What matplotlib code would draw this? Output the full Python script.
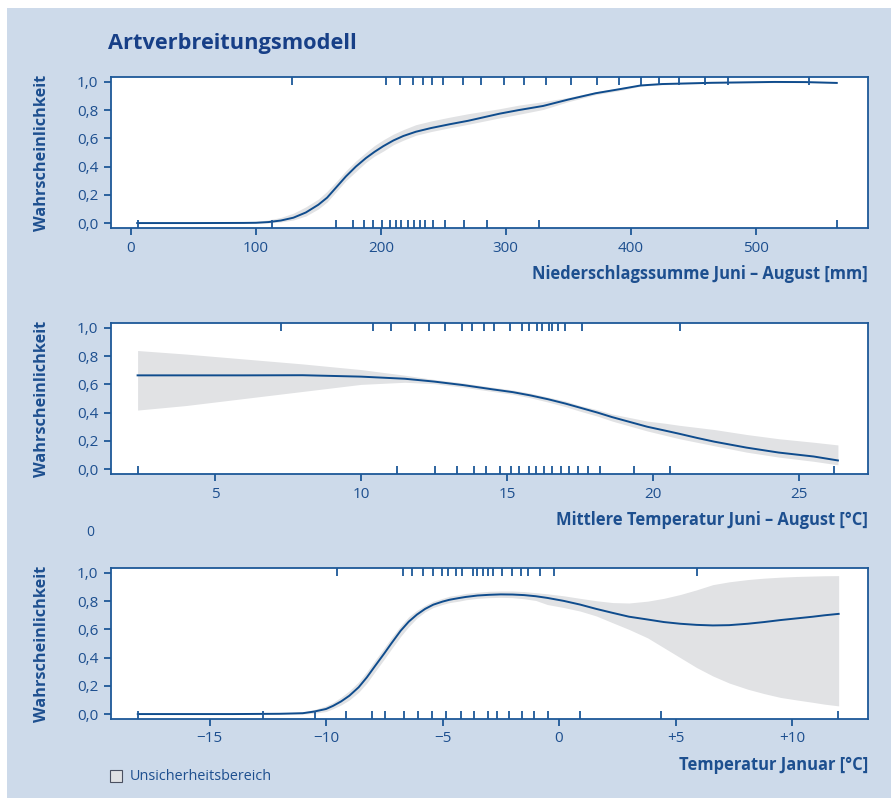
import numpy as np
import matplotlib
matplotlib.use('Agg')
import matplotlib.pyplot as plt
from matplotlib.patches import Rectangle

plt.rcParams['font.family'] = ['Open Sans', 'DejaVu Sans']

# --- Niederschlag Juni-August [mm]
prec_x = [5, 50, 90, 100, 110, 120, 130, 140, 150, 157, 165, 172, 180, 188, 195, 202, 210,
          218, 228, 240, 255, 270, 295, 310, 330, 350, 372, 392, 408, 425, 465, 515, 540, 565]
prec_y = [0, 0, 0.001, 0.002, 0.007, 0.018, 0.038, 0.075, 0.13, 0.18, 0.26, 0.33, 0.40, 0.46,
          0.505, 0.545, 0.585, 0.617, 0.647, 0.673, 0.70, 0.725, 0.775, 0.80, 0.83, 0.875,
          0.92, 0.95, 0.975, 0.985, 0.994, 1.0, 0.999, 0.993]
prec_lo = [0, 0, 0, 0, 0.001, 0.008, 0.022, 0.05, 0.10, 0.15, 0.23, 0.30, 0.365, 0.43, 0.475,
           0.51, 0.555, 0.587, 0.622, 0.648, 0.675, 0.70, 0.745, 0.77, 0.805, 0.86, 0.91,
           0.94, 0.97, 0.98, 0.99, 0.995, 0.995, 0.99]
prec_hi = [0.003, 0.004, 0.008, 0.012, 0.022, 0.04, 0.07, 0.115, 0.17, 0.225, 0.30, 0.37,
           0.44, 0.50, 0.55, 0.59, 0.63, 0.662, 0.697, 0.723, 0.75, 0.775, 0.81, 0.835,
           0.86, 0.89, 0.93, 0.96, 0.98, 0.99, 0.998, 1.004, 1.003, 0.997]
prec_pres = [128.5, 204, 215, 226, 233.6, 241, 250, 266, 280.5, 298.7, 315, 332.5, 352.5,
             373, 391, 408, 422.4, 439, 459.7, 478, 543]
prec_abs = [5.3, 112.5, 164.5, 178, 186.7, 194, 201, 207, 212, 216.5, 221.6, 226.7, 231.7,
            235.7, 242, 251, 266.4, 285, 327, 565]

# --- Mittlere Temperatur Juni-August
tsum_x = [2.35, 4, 6, 8, 10, 11.5, 12.5, 13.5, 14.5, 15.2, 15.8, 16.4, 17.0, 17.5, 18.1,
          18.6, 19.2, 19.8, 20.4, 20.9, 21.5, 22.1, 23.2, 24.3, 25.5, 26.33]
tsum_y = [0.664, 0.664, 0.664, 0.665, 0.655, 0.64, 0.62, 0.595, 0.565, 0.545, 0.522, 0.495,
          0.464, 0.435, 0.40, 0.368, 0.334, 0.30, 0.273, 0.25, 0.221, 0.194, 0.152, 0.117,
          0.089, 0.061]
tsum_lo = [0.418, 0.45, 0.50, 0.55, 0.60, 0.615, 0.605, 0.58, 0.55, 0.53, 0.505, 0.475,
           0.442, 0.41, 0.375, 0.34, 0.305, 0.27, 0.24, 0.215, 0.19, 0.165, 0.12, 0.085,
           0.055, 0.03]
tsum_hi = [0.84, 0.815, 0.78, 0.745, 0.705, 0.665, 0.635, 0.61, 0.58, 0.56, 0.538, 0.51,
           0.482, 0.45, 0.42, 0.39, 0.365, 0.34, 0.325, 0.31, 0.295, 0.28, 0.245, 0.215,
           0.19, 0.171]
tsum_pres = [7.26, 10.42, 11.03, 11.85, 12.33, 12.88, 13.47, 13.81, 14.2, 14.56, 15.1, 15.5,
             15.76, 16.02, 16.19, 16.45, 16.53, 16.76, 16.99, 17.56, 20.92]
tsum_abs = [2.35, 11.22, 12.53, 13.3, 13.87, 14.28, 14.77, 15.15, 15.41, 15.75, 15.99, 16.27,
            16.55, 16.84, 17.13, 17.44, 17.76, 18.18, 19.35, 20.58, 26.2]

# --- Temperatur Januar
tjan_x = [-18.08, -14, -12, -11, -10.5, -10, -9.7, -9.35, -9.0, -8.6, -8.25, -7.9, -7.5,
          -7.2, -6.8, -6.45, -6.1, -5.75, -5.4, -5.0, -4.7, -4.3, -4.0, -3.5, -3.0, -2.5,
          -2.0, -1.5, -1.0, -0.5, 0.2, 0.9, 1.6, 2.3, 3.0, 3.8, 4.5, 5.2, 5.9, 6.6, 7.3, 8.1,
          8.8, 9.5, 10.2, 10.9, 11.4, 12.0]
tjan_y = [0, 0, 0.002, 0.006, 0.018, 0.036, 0.058, 0.09, 0.13, 0.19, 0.26, 0.34, 0.43, 0.50,
          0.59, 0.655, 0.705, 0.745, 0.775, 0.797, 0.81, 0.822, 0.83, 0.84, 0.845, 0.848,
          0.847, 0.843, 0.835, 0.823, 0.802, 0.776, 0.745, 0.717, 0.69, 0.67, 0.652, 0.64,
          0.632, 0.628, 0.63, 0.64, 0.652, 0.666, 0.678, 0.69, 0.70, 0.71]
tjan_lo = [0, 0, 0, 0, 0.006, 0.018, 0.038, 0.065, 0.10, 0.155, 0.22, 0.30, 0.39, 0.46, 0.55,
           0.62, 0.68, 0.725, 0.755, 0.777, 0.79, 0.80, 0.81, 0.82, 0.825, 0.827, 0.825,
           0.817, 0.805, 0.776, 0.755, 0.73, 0.695, 0.647, 0.60, 0.54, 0.47, 0.40, 0.33,
           0.27, 0.22, 0.176, 0.145, 0.118, 0.10, 0.083, 0.07, 0.058]
tjan_hi = [0, 0.002, 0.006, 0.015, 0.032, 0.058, 0.082, 0.12, 0.165, 0.228, 0.30, 0.38, 0.47,
           0.54, 0.625, 0.69, 0.735, 0.77, 0.80, 0.82, 0.835, 0.845, 0.855, 0.863, 0.87,
           0.872, 0.872, 0.868, 0.86, 0.852, 0.838, 0.82, 0.803, 0.79, 0.787, 0.80, 0.82,
           0.847, 0.88, 0.917, 0.937, 0.953, 0.963, 0.97, 0.975, 0.978, 0.98, 0.981]
tjan_pres = [-9.54, -6.68, -6.32, -5.82, -5.42, -5.03, -4.75, -4.42, -4.15, -3.7, -3.53,
             -3.27, -3.05, -2.85, -2.45, -2.03, -1.63, -1.32, -0.82, -0.21, 5.91]
tjan_abs = [-18.08, -12.69, -10.47, -9.15, -8.04, -7.47, -6.64, -6.06, -5.46, -4.86, -4.22,
            -3.64, -3.05, -2.67, -2.15, -1.6, -1.07, -0.46, 0.9, 4.38, 11.99]

yticks = [0, 0.2, 0.4, 0.6, 0.8, 1.0]
ytick_labels = ['0,0', '0,2', '0,4', '0,6', '0,8', '1,0']

BG = '#cddaea'
LINE = '#0f4c8d'
AXC = '#1d5898'
TXT = '#1d4f8f'
BAND = '#e1e2e4'

W, H = 891, 798
fig = plt.figure(figsize=(W / 100, H / 100), dpi=100)
fig.patch.set_facecolor('white')
fig.patches.append(Rectangle((7 / W, 0), 1 - 7 / W, 1 - 8 / H, transform=fig.transFigure,
                             facecolor=BG, edgecolor='none', zorder=-10))

panels = [
    (prec_x, prec_y, prec_lo, prec_hi, prec_pres, prec_abs, (-16, 590),
     [0, 100, 200, 300, 400, 500], ['0', '100', '200', '300', '400', '500'],
     'Niederschlagssumme Juni – August [mm]', 77, 228),
    (tsum_x, tsum_y, tsum_lo, tsum_hi, tsum_pres, tsum_abs, (1.44, 27.36),
     [5, 10, 15, 20, 25], ['5', '10', '15', '20', '25'],
     'Mittlere Temperatur Juni – August [°C]', 323, 474),
    (tjan_x, tjan_y, tjan_lo, tjan_hi, tjan_pres, tjan_abs, (-19.23, 13.26),
     [-15, -10, -5, 0, 5, 10], ['\u221215', '\u221210', '\u22125', '0', '+5', '+10'],
     'Temperatur Januar [°C]', 568, 719),
]

for x, y, lo, hi, pres, absn, xlim, xt, xtl, xlabel, top, bot in panels:
    ax = fig.add_axes([111 / W, 1 - bot / H, (868 - 111) / W, (bot - top) / H])
    ax.fill_between(x, lo, hi, color=BAND, lw=0)
    ax.plot(x, y, color=LINE, lw=1.4)
    trans = ax.get_xaxis_transform()
    ax.vlines(pres, 0.947, 1, transform=trans, color=AXC, lw=1.3)
    ax.vlines(absn, 0, 0.053, transform=trans, color=AXC, lw=1.3)
    ax.set_xlim(xlim)
    ax.set_ylim(-0.035, 1.035)
    ax.set_yticks(yticks)
    ax.set_yticklabels(ytick_labels)
    ax.set_xticks(xt)
    ax.set_xticklabels(xtl)
    for s in ax.spines.values():
        s.set_color(AXC)
        s.set_linewidth(1.3)
    ax.tick_params(direction='out', length=5, width=1.3, color=AXC, labelcolor=TXT,
                   labelsize=11, pad=4)
    fig.text(868 / W, 1 - (bot + 46) / H, xlabel, ha='right', va='center', color=TXT,
             fontsize=11.9, fontweight='bold')
    fig.text(42 / W, 1 - (top + bot) / 2 / H, 'Wahrscheinlichkeit', rotation=90, ha='center',
             va='center', color=TXT, fontsize=11.7, fontweight='bold')

fig.text(108 / W, 1 - 44 / H, 'Artverbreitungsmodell', ha='left', va='center', color='#173f87',
         fontsize=15.7, fontweight='bold')
fig.text(90 / W, 1 - 532 / H, '0', ha='center', va='center', color=TXT, fontsize=10)

fig.patches.append(Rectangle((110 / W, 1 - 782 / H), 12 / W, 12 / H, transform=fig.transFigure,
                             facecolor=BAND, edgecolor='#4a5060', lw=0.8))
fig.text(130 / W, 1 - 776 / H, 'Unsicherheitsbereich', ha='left', va='center', color=TXT,
         fontsize=10.4)

fig.savefig('out.png', dpi=100, facecolor=fig.get_facecolor())
